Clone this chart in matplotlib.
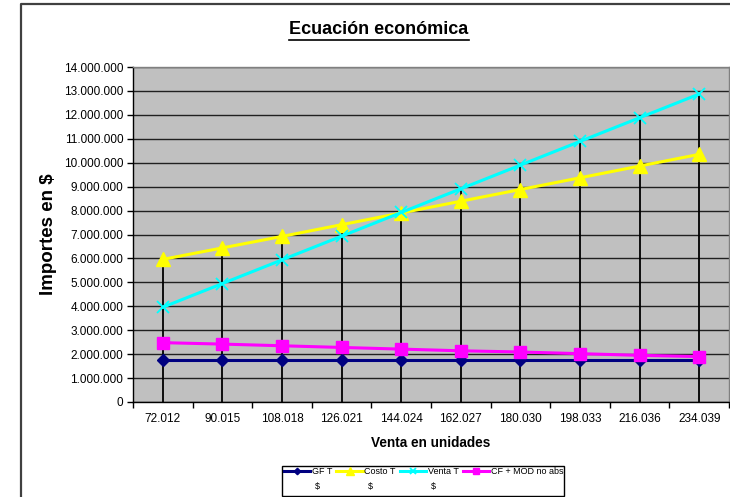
import matplotlib
matplotlib.use("Agg")
import matplotlib.pyplot as plt
from matplotlib.lines import Line2D
from matplotlib.patches import Rectangle
import numpy as np

plt.rcParams['font.family'] = ['Liberation Sans', 'DejaVu Sans']

categories = ["72.012", "90.015", "108.018", "126.021", "144.024",
              "162.027", "180.030", "198.033", "216.036", "234.039"]
gf_t = [1760000, 1760000, 1760000, 1760000, 1760000,
        1760000, 1760000, 1760000, 1760000, 1760000]
costo_t = [5960000, 6440000, 6920000, 7410000, 7900000,
           8390000, 8880000, 9370000, 9860000, 10350000]
venta_t = [3960000, 4950000, 5940000, 6930000, 7920000,
           8910000, 9900000, 10890000, 11880000, 12870000]
cf_mod = [2480000, 2420000, 2350000, 2280000, 2210000,
          2140000, 2090000, 2020000, 1950000, 1900000]
series_labels = ["GF T", "Costo T", "Venta T", "CF + MOD no abs"]
label_second_lines = ["$", "$", "$", ""]
yticks = list(range(0, 14000001, 1000000))

W, H = 730, 497
fig = plt.figure(figsize=(W / 100, H / 100), dpi=100)
ax = fig.add_axes([133 / W, 1 - 402 / H, (729 - 133) / W, (402 - 67) / H])
ax.set_facecolor('#C0C0C0')

x = np.arange(len(categories))

# horizontal gridlines
for v in yticks:
    ax.axhline(v, color='#202020', lw=1.0, zorder=1)

# drop lines from highest point down to the axis
tops = np.max(np.vstack([gf_t, costo_t, venta_t, cf_mod]), axis=0)
ax.vlines(x, 0, tops, colors='black', lw=1.3, zorder=2)

ax.plot(x, gf_t, color='#000080', lw=2.2, marker='D', ms=6, zorder=3, label=series_labels[0])
ax.plot(x, costo_t, color='#FFFF00', lw=2.2, marker='^', ms=10, zorder=3, label=series_labels[1])
ax.plot(x, venta_t, color='#00FFFF', lw=2.2, marker='x', ms=9, mew=1.3, zorder=4, label=series_labels[2])
ax.plot(x, cf_mod, color='#FF00FF', lw=2.2, marker='s', ms=8.5, zorder=5, label=series_labels[3])

ax.set_xlim(-0.5, len(categories) - 0.5)
ax.set_ylim(0, 14000000)
ax.set_yticks(yticks)
ax.set_yticklabels([f"{v:,.0f}".replace(",", ".") for v in yticks], fontsize=8.5)
ax.set_xticks(x)
ax.set_xticklabels(categories, fontsize=8.5)
ax.tick_params(axis='x', length=0, pad=8)
ax.set_xticks(np.arange(-0.5, len(categories)), minor=True)
ax.tick_params(axis='x', which='minor', length=4, width=1, direction='out')
ax.tick_params(axis='y', length=4, width=1, direction='out', pad=3)

for side in ['top', 'right']:
    ax.spines[side].set_color('#808080')
    ax.spines[side].set_linewidth(1.0)
for side in ['left', 'bottom']:
    ax.spines[side].set_color('black')
    ax.spines[side].set_linewidth(1.0)

ax.set_xlabel("Venta en unidades", fontsize=9.8, fontweight='bold', labelpad=8)
ax.set_ylabel("Importes en $", fontsize=13.5, fontweight='bold', labelpad=5)

# title with underline
title = fig.text(379 / W, 1 - 30 / H, "Ecuación económica", fontsize=13,
                 fontweight='bold', ha='center', va='center')

# outer chart border (left and top)
fig.add_artist(Line2D([21 / W, 21 / W, 1.0], [0.0, 1 - 4 / H, 1 - 4 / H],
                      transform=fig.transFigure, color='#404040', lw=1.6))

# legend box
fig.add_artist(Rectangle((282 / W, 1 - 496 / H), (564 - 282) / W, (496 - 466) / H,
                         transform=fig.transFigure, facecolor='white',
                         edgecolor='black', lw=1.0, zorder=5))
leg = fig.legend(loc='upper left', bbox_to_anchor=(284 / W, 1 - 467 / H),
                 ncol=4, fontsize=6.5, frameon=False, handlelength=2.9,
                 handletextpad=0.2, columnspacing=0.45, borderpad=0,
                 borderaxespad=0, markerscale=0.55)
leg.set_zorder(6)

fig.canvas.draw()
bb = title.get_window_extent()
uy = bb.y0 - 1
fig.add_artist(Line2D([bb.x0 / W, bb.x1 / W], [uy / H, uy / H],
                      transform=fig.transFigure, color='black', lw=1.2))

for t, second in zip(leg.get_texts(), label_second_lines):
    if second:
        tb = t.get_window_extent()
        fig.text(tb.x0 / W + 3 / W, 1 - 487 / H, second, fontsize=6.5,
                 ha='left', va='center', zorder=7)

fig.savefig("out.png", dpi=100)
